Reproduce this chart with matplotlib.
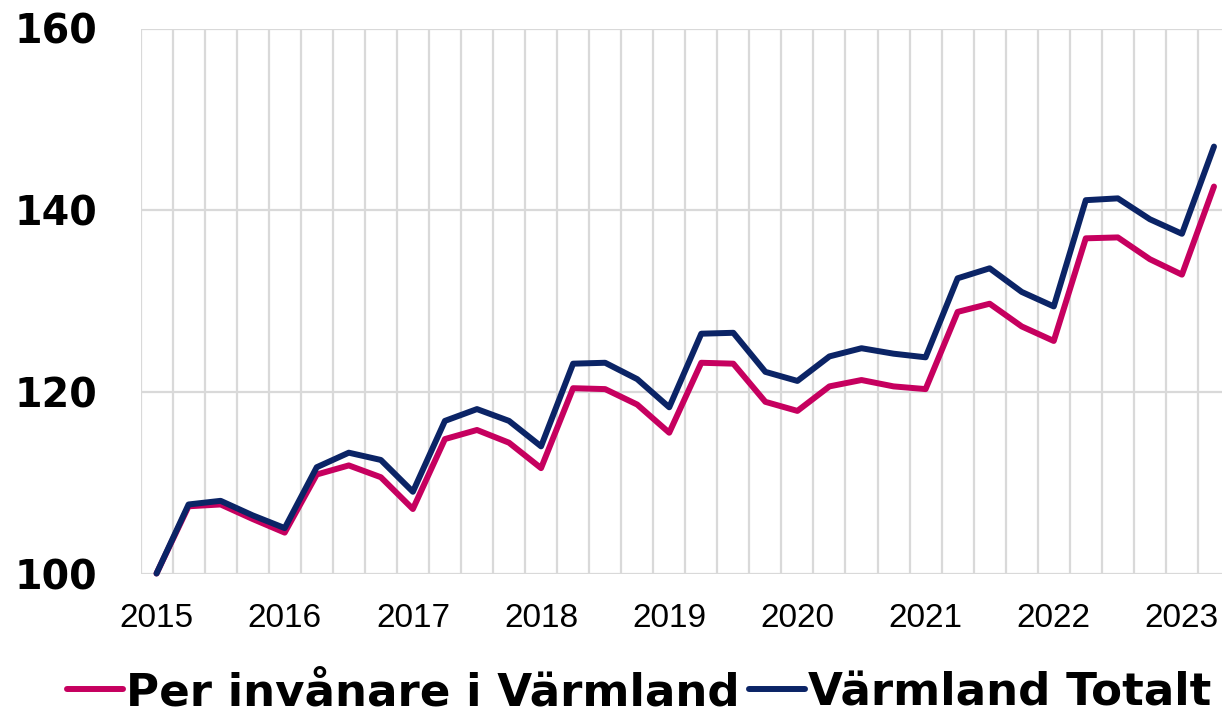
import matplotlib
matplotlib.use("Agg")
import matplotlib.pyplot as plt
from matplotlib.ticker import FixedLocator, NullFormatter
import numpy as np

years = ["2015", "2016", "2017", "2018", "2019", "2020", "2021", "2022", "2023"]
per_invanare = [100, 107.4, 107.6, 106.0, 104.5, 110.9, 111.9, 110.6, 107.1, 114.8,
                115.8, 114.4, 111.6, 120.4, 120.3, 118.6, 115.5, 123.2, 123.1, 118.9,
                117.9, 120.6, 121.3, 120.6, 120.3, 128.8, 129.7, 127.2, 125.6, 136.9,
                137.0, 134.6, 132.9, 142.6]
totalt = [100, 107.6, 108.0, 106.4, 105.0, 111.7, 113.3, 112.5, 109.0, 116.8,
          118.1, 116.8, 114.0, 123.1, 123.2, 121.4, 118.3, 126.4, 126.5, 122.2,
          121.2, 123.9, 124.8, 124.2, 123.8, 132.5, 133.6, 131.0, 129.4, 141.1,
          141.3, 139.0, 137.4, 147.0]
series_names = ["Per invånare i Värmland", "Värmland Totalt"]
yticks = [100, 120, 140, 160]

PINK = "#C6005F"
NAVY = "#0B2466"
GRID = "#D9D9D9"

W, H = 1222, 712
fig = plt.figure(figsize=(W / 100, H / 100), dpi=100)
left_px, right_px, top_px, bottom_px = 140.5, 1230.0, 28.5, 573.5
ax = fig.add_axes([left_px / W, 1 - bottom_px / H, (right_px - left_px) / W, (bottom_px - top_px) / H])

n = len(totalt)
x = np.arange(n)
ax.plot(x, per_invanare, color=PINK, lw=4.3, solid_joinstyle="round", solid_capstyle="round",
        clip_on=False, zorder=3, label=series_names[0])
ax.plot(x, totalt, color=NAVY, lw=4.3, solid_joinstyle="round", solid_capstyle="round",
        clip_on=False, zorder=4, label=series_names[1])

ax.set_xlim(-0.5, n - 0.5)
ax.set_ylim(100, 160)
ax.set_yticks(yticks)
ax.set_yticklabels([str(v) for v in yticks], fontsize=28.5, fontweight="bold",
                   family=["DejaVu Sans"])
ax.set_xticks(np.arange(0, n, 4)[:len(years)])
ax.set_xticklabels(years, fontsize=24, family=["Liberation Sans"])
ax.xaxis.set_minor_locator(FixedLocator(np.arange(-0.5, n, 1.0)))
ax.xaxis.set_minor_formatter(NullFormatter())
ax.tick_params(axis="both", which="both", length=0)
ax.tick_params(axis="y", pad=31)
ax.tick_params(axis="x", pad=21)
ax.grid(False)
ax.grid(True, axis="x", which="minor", color=GRID, lw=1.6, zorder=0)
ax.grid(True, axis="y", which="major", color=GRID, lw=1.6, zorder=0)
for s in ax.spines.values():
    s.set_visible(False)
ax.set_axisbelow(True)

fig.legend(loc="center", bbox_to_anchor=(0.523, 0.027), ncol=2, frameon=False,
           prop={"family": "DejaVu Sans", "weight": "bold", "size": 32.5},
           handlelength=1.25, handletextpad=0.07, columnspacing=0.2, borderpad=0)

fig.savefig("out.png", dpi=100)
